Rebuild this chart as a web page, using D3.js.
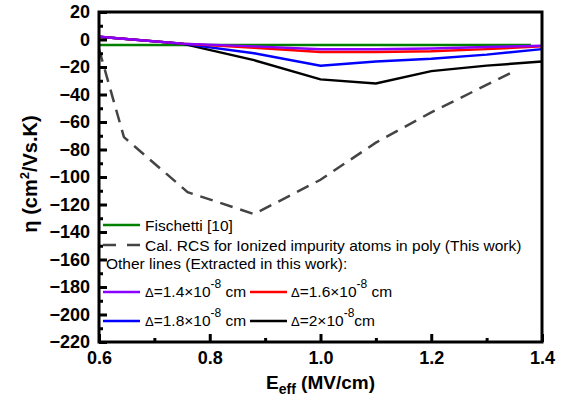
<!DOCTYPE html>
<html>
<head>
<meta charset="utf-8">
<script src="https://cdn.jsdelivr.net/npm/d3@7"></script>
<style>
  body { margin: 0; background: #fff; }
  text { font-family: "Liberation Sans", Arial, sans-serif; }
</style>
</head>
<body>
<div id="chart"></div>
<script>
// eta vs effective field
var xTicks = [0.6, 0.8, 1.0, 1.2, 1.4];
var xMinor = [0.7, 0.9, 1.1, 1.3];
var yTicks = [20, 0, -20, -40, -60, -80, -100, -120, -140, -160, -180, -200, -220];
var yMinor = [10, -10, -30, -50, -70, -90, -110, -130, -150, -170, -190, -210];

var fischettiX = [0.6, 0.8, 1.0, 1.2, 1.38];
var fischettiY = [-4, -4, -4, -4, -4];

var rcsX = [0.6, 0.645, 0.76, 0.88, 1.0, 1.1, 1.2, 1.35];
var rcsY = [-7, -71, -111, -127, -102, -75, -53, -23];

var deltaX = [0.6, 0.75, 0.88, 1.0, 1.1, 1.2, 1.3, 1.4];
var d14 = [2, -3, -5, -7, -7, -6.5, -5.5, -4.5];
var d16 = [2, -3, -6, -9, -9, -8.5, -7, -5];
var d18 = [2, -3, -10, -19, -16, -14, -11, -7];
var d20 = [2, -3, -15, -29, -32, -23, -19, -16];

var seriesColor = {
  'fischetti' : '#008000',
  'rcs' : '#444444',
  'd14' : '#8a00ff',
  'd16' : '#ff0000',
  'd18' : '#0000ff',
  'd20' : '#000000'
}

function toPoints(xs, ys){
  return xs.map(function(d, i){ return [d, ys[i]]; });
}

var margin = {top: 12, right: 27, bottom: 60, left: 99};
var fullW = 569, fullH = 402;
var width = fullW - margin.left - margin.right,
    height = fullH - margin.top - margin.bottom;

var svg = d3.select("#chart").append("svg")
    .attr("width", fullW)
    .attr("height", fullH);
var g = svg.append("g").attr("transform", "translate(" + margin.left + "," + margin.top + ")");

var x = d3.scaleLinear().domain([0.6, 1.4]).range([0, width]);
var y = d3.scaleLinear().domain([-220, 20]).range([height, 0]);

var line = d3.line()
    .x(function(d) { return x(d[0]); })
    .y(function(d) { return y(d[1]); });

// data lines
var series = [
  {key: 'fischetti', pts: toPoints(fischettiX, fischettiY)},
  {key: 'rcs', pts: toPoints(rcsX, rcsY), dash: "13,8"},
  {key: 'd20', pts: toPoints(deltaX, d20)},
  {key: 'd18', pts: toPoints(deltaX, d18)},
  {key: 'd16', pts: toPoints(deltaX, d16)},
  {key: 'd14', pts: toPoints(deltaX, d14)}
];

g.append("g").selectAll("path")
  .data(series)
  .enter().append("path")
    .attr("d", function(d) { return line(d.pts); })
    .attr("fill", "none")
    .attr("stroke", function(d) { return seriesColor[d.key]; })
    .attr("stroke-width", 2.5)
    .attr("stroke-dasharray", function(d) { return d.dash || null; });

// axes (ticks inward)
var bottom = g.append("g")
    .attr("transform", "translate(0," + height + ")")
    .call(d3.axisBottom(x).tickValues(xTicks).tickSize(-8).tickPadding(9).tickFormat(d3.format(".1f")));
bottom.append("g")
    .call(d3.axisBottom(x).tickValues(xMinor).tickSize(-4).tickFormat(""));

var left = g.append("g")
    .call(d3.axisLeft(y).tickValues(yTicks).tickSize(-8).tickPadding(9).tickFormat(d3.format("d")));
left.append("g")
    .call(d3.axisLeft(y).tickValues(yMinor).tickSize(-4).tickFormat(""));

g.selectAll(".domain").remove();
g.selectAll(".tick line").attr("stroke", "#000").attr("stroke-width", 3);
g.selectAll(".tick text")
    .attr("font-size", 18)
    .attr("font-weight", "bold")
    .attr("fill", "#000");

// frame
g.append("rect")
    .attr("width", width)
    .attr("height", height)
    .attr("fill", "none")
    .attr("stroke", "#000")
    .attr("stroke-width", 3);

// axis titles
var xt = svg.append("text")
    .attr("x", margin.left + width / 2)
    .attr("y", 389)
    .attr("text-anchor", "middle")
    .attr("font-size", 19)
    .attr("font-weight", "bold");
xt.append("tspan").text("E");
xt.append("tspan").attr("font-size", 14).attr("dy", 5).text("eff");
xt.append("tspan").attr("dy", -5).text(" (MV/cm)");

var yt = svg.append("text")
    .attr("transform", "translate(37,174) rotate(-90)")
    .attr("text-anchor", "middle")
    .attr("font-size", 20)
    .attr("font-weight", "bold");
yt.append("tspan").text("\u03b7 (cm");
yt.append("tspan").attr("font-size", 13).attr("dy", -8).text("2");
yt.append("tspan").attr("dy", 8).text("/Vs.K)");

// legend
var lg = svg.append("g").attr("font-size", 15.5);

function legendLine(x0, yy, key, dash){
  lg.append("line")
    .attr("x1", x0).attr("x2", x0 + 37)
    .attr("y1", yy).attr("y2", yy)
    .attr("stroke", seriesColor[key])
    .attr("stroke-width", 2.5)
    .attr("stroke-dasharray", dash || null);
}

function deltaText(x0, yy, num, unit){
  var t = lg.append("text").attr("x", x0).attr("y", yy + 5);
  t.append("tspan").attr("font-size", 13).text("\u0394");
  t.append("tspan").text("=" + num + "\u00d710");
  t.append("tspan").attr("font-size", 12).attr("dy", -9).text("-8");
  t.append("tspan").attr("dy", 9).text(unit);
}

legendLine(103, 225, 'fischetti');
lg.append("text").attr("x", 145).attr("y", 230.5).text("Fischetti [10]");
legendLine(103, 245, 'rcs', "13,11");
lg.append("text").attr("x", 145).attr("y", 250.5).text("Cal. RCS for Ionized impurity atoms in poly (This work)");
lg.append("text").attr("x", 106).attr("y", 269).text("Other lines (Extracted in this work):");

legendLine(103, 292, 'd14');
deltaText(145, 292, "1.4", " cm");
legendLine(250, 292, 'd16');
deltaText(291, 292, "1.6", " cm");
legendLine(103, 321, 'd18');
deltaText(145, 321, "1.8", " cm");
legendLine(250, 321, 'd20');
deltaText(291, 321, "2", "cm");
</script>
</body>
</html>
